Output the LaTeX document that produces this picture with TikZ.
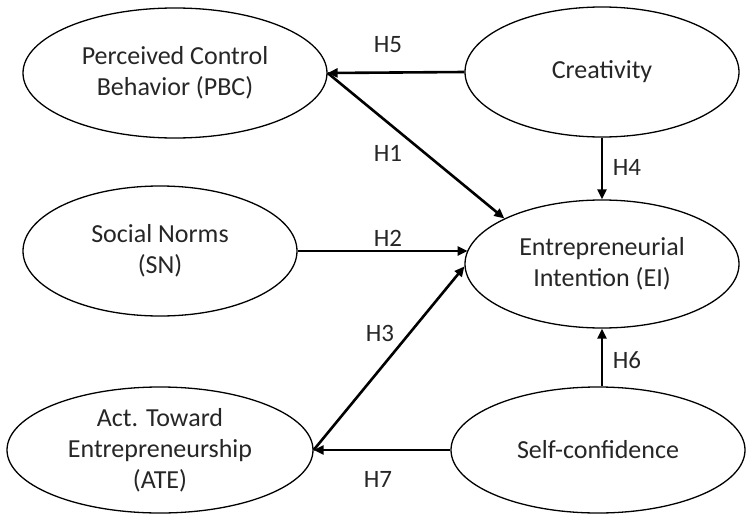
\documentclass[tikz,border=0pt]{standalone}
\usepackage{fontspec}
\setmainfont{Carlito}
\usetikzlibrary{shapes.geometric,arrows.meta}
\begin{document}
\begin{tikzpicture}[x=1pt,y=-1pt,
  construct/.style={ellipse,draw=black,line width=1.3pt,inner sep=0pt,align=center,
    font=\fontsize{26}{31}\selectfont,text=black!85},
  link/.style={line width=2.6pt,-{Triangle[length=10pt,width=9pt]},shorten >=0pt},
  hlab/.style={font=\fontsize{25}{30}\selectfont,text=black!85}]
\useasboundingbox (0,0) rectangle (747,514);
\node[construct,minimum width=304,minimum height=130] (PBC) at (175,73) {Perceived Control\\Behavior (PBC)};
\node[construct,minimum width=274,minimum height=130] (CRE) at (602,72) {Creativity};
\node[construct,minimum width=274,minimum height=130] (SN) at (160,251) {Social Norms\\(SN)};
\node[construct,minimum width=274,minimum height=128] (EI) at (602,264) {Entrepreneurial\\Intention (EI)};
\node[construct,minimum width=306,minimum height=126] (ATE) at (160,450) {Act. Toward\\Entrepreneurship\\(ATE)};
\node[construct,minimum width=294,minimum height=126] (SC) at (598,450) {Self-confidence};
\draw[link] (CRE.west) -- (PBC.east);
\draw[link] (PBC.east) -- (EI.155);
\draw[link] (EI.north |- CRE.south) -- (EI.north);
\draw[link] (SN.east) -- (SN.east -| EI.174.5);
\draw[link] (ATE.east) -- (EI.181);
\draw[link] (EI.south |- SC.north) -- (EI.south);
\draw[link] (SC.west) -- (ATE.east);
\node[hlab] (l5) at (388,45) {H5};
\node[hlab] (l1) at (388,153) {H1};
\node[hlab] (l4) at (627,167) {H4};
\node[hlab] (l2) at (388,238) {H2};
\node[hlab] (l3) at (380,333) {H3};
\node[hlab] (l6) at (627,360) {H6};
\node[hlab] (l7) at (378,479) {H7};
\end{tikzpicture}
\end{document}
